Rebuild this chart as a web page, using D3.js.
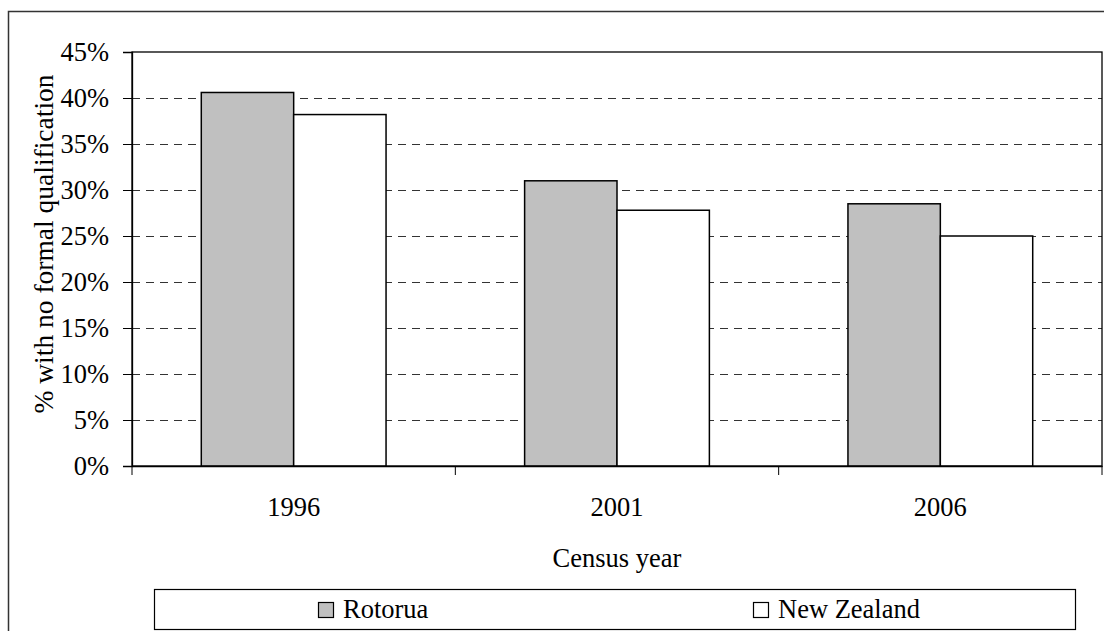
<!DOCTYPE html>
<html><head><meta charset="utf-8">
<script src="https://cdn.jsdelivr.net/npm/d3@7"></script>
<style>html,body{margin:0;padding:0;background:#fff;}svg{display:block;}</style>
</head><body>
<svg id="c" width="1104" height="631"></svg>
<script>
const years = ["1996", "2001", "2006"];
const seriesNames = ["Rotorua", "New Zealand"];
const rotorua = [40.6, 31.0, 28.5];
const newZealand = [38.2, 27.8, 25.0];
const yTicks = [0, 5, 10, 15, 20, 25, 30, 35, 40, 45];
const fills = ["#C0C0C0", "#FFFFFF"];

const svg = d3.select("#c");
const font = "'Liberation Serif','Times New Roman',serif";
const fs = 26.5;
const L = 132, R = 1102, T = 52, B = 466;

// outer frame (extends past right/bottom edges)
svg.append("rect").attr("x", 8.5).attr("y", 11.5).attr("width", 1110).attr("height", 640)
  .attr("fill", "none").attr("stroke", "#333").attr("stroke-width", 1.5);

const x = d3.scaleBand().domain(years).range([L, R]).padding(0);
const y = d3.scaleLinear().domain([0, 45]).range([B, T]);
const bw = x.bandwidth() / 3.5;
const xs = d3.scaleBand().domain(seriesNames).range([0.75 * bw, 2.75 * bw]).padding(0);

// gridlines
svg.append("g").selectAll("line").data(yTicks.filter(t => t > 0 && t < 45)).join("line")
  .attr("x1", L).attr("x2", R).attr("y1", d => Math.round(y(d)) + 0.5).attr("y2", d => Math.round(y(d)) + 0.5)
  .attr("stroke", "#333").attr("stroke-width", 1).attr("stroke-dasharray", "8,6");

// plot border
svg.append("rect").attr("x", L).attr("y", T).attr("width", R - L).attr("height", B - T)
  .attr("fill", "none").attr("stroke", "#000").attr("stroke-width", 1.3);

// bars
const data = years.map((yr, i) => ({yr, vals: [rotorua[i], newZealand[i]]}));
const g = svg.append("g");
data.forEach(d => {
  d.vals.forEach((v, j) => {
    g.append("rect")
      .attr("x", x(d.yr) + xs(seriesNames[j]))
      .attr("y", y(v))
      .attr("width", xs.bandwidth())
      .attr("height", y(0) - y(v))
      .attr("fill", fills[j]).attr("stroke", "#000").attr("stroke-width", 1.5);
  });
});

// y axis
const yAxis = d3.axisLeft(y).tickValues(yTicks).tickSize(9).tickPadding(14).tickFormat(d => d + "%");
const ya = svg.append("g").attr("transform", `translate(${L},0)`).call(yAxis);
ya.select(".domain").attr("stroke", "#000").attr("stroke-width", 1.3);
ya.selectAll(".tick line").attr("stroke", "#000");
ya.selectAll("text").attr("font-family", font).attr("font-size", fs).attr("fill", "#000");

// x axis ticks at category boundaries
const xa = svg.append("g").attr("transform", `translate(0,${B})`);
xa.call(d3.axisBottom(x).tickSize(0).tickPadding(31));
xa.select(".domain").attr("stroke", "#000").attr("stroke-width", 1.3);
xa.selectAll("text").attr("font-family", font).attr("font-size", fs).attr("fill", "#000");
const bounds = years.map(yr => x(yr)).concat([x(years[years.length - 1]) + x.bandwidth()]);
xa.selectAll(".bt").data(bounds).join("line").attr("class", "bt")
  .attr("x1", d => d).attr("x2", d => d).attr("y1", 0).attr("y2", 9).attr("stroke", "#000");

// axis titles
svg.append("text").attr("x", (L + R) / 2).attr("y", 567).attr("text-anchor", "middle")
  .attr("font-family", font).attr("font-size", fs).text("Census year");
svg.append("text").attr("transform", "translate(53,244) rotate(-90)").attr("text-anchor", "middle")
  .attr("font-family", font).attr("font-size", 27.5).text("% with no formal qualification");

// legend
svg.append("rect").attr("x", 154.5).attr("y", 589.5).attr("width", 921).attr("height", 40)
  .attr("fill", "#fff").attr("stroke", "#000").attr("stroke-width", 1.2);
const legX = [318, 753];
seriesNames.forEach((s, j) => {
  svg.append("rect").attr("x", legX[j] + 0.5).attr("y", 602.5).attr("width", 15).attr("height", 15)
    .attr("fill", fills[j]).attr("stroke", "#000").attr("stroke-width", 1.2);
  svg.append("text").attr("x", legX[j] + 25).attr("y", 618).attr("font-family", font).attr("font-size", fs).text(s);
});
</script>
</body></html>
